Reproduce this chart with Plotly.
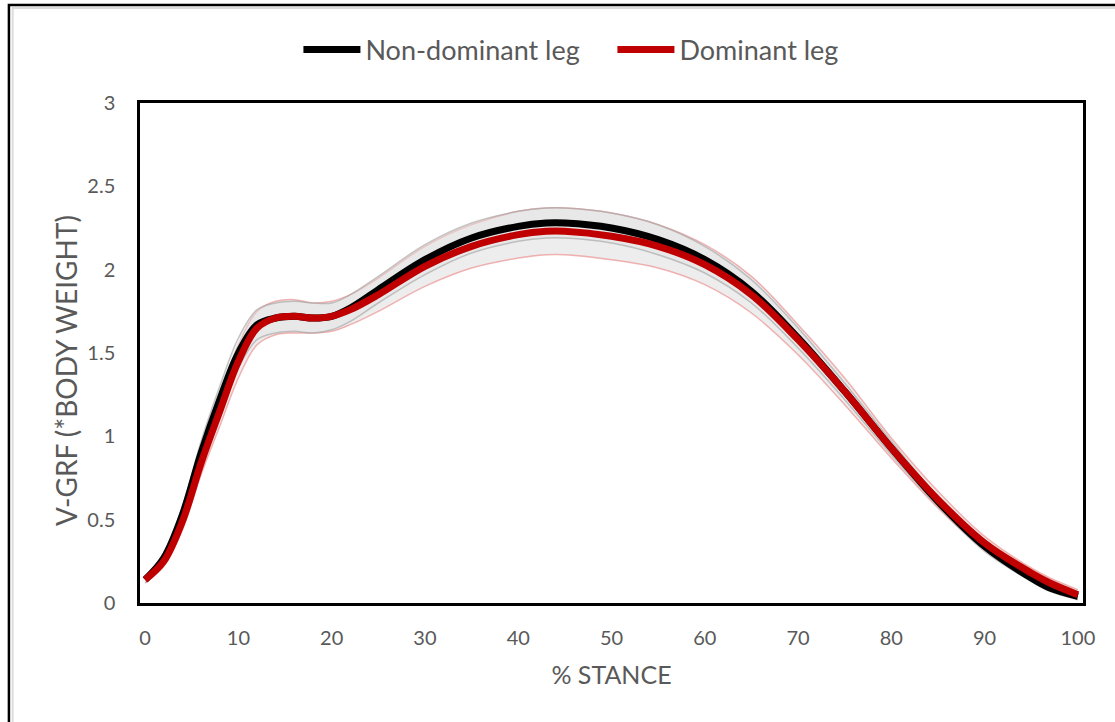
import plotly.graph_objects as go

# % stance sample points
stance = [0, 2, 4, 6, 8, 10, 12, 14, 16, 18, 20, 22, 25, 30, 35, 40, 43, 45, 50, 55, 60, 65, 70, 75, 80, 85, 90, 95, 97, 100]

# Non-dominant leg mean and SD (body weights)
nondom_mean = [0.14, 0.27, 0.53, 0.90, 1.22, 1.50, 1.67, 1.71, 1.72, 1.71, 1.72, 1.77, 1.88, 2.06, 2.19, 2.26, 2.28, 2.28, 2.25, 2.18, 2.06, 1.87, 1.59, 1.27, 0.93, 0.61, 0.34, 0.15, 0.09, 0.04]
nondom_sd = [0.02, 0.03, 0.05, 0.07, 0.08, 0.09, 0.09, 0.09, 0.09, 0.09, 0.08, 0.08, 0.08, 0.09, 0.09, 0.09, 0.09, 0.09, 0.09, 0.09, 0.08, 0.07, 0.06, 0.05, 0.04, 0.03, 0.03, 0.02, 0.02, 0.02]

# Dominant leg mean and SD (body weights)
dom_mean = [0.14, 0.25, 0.49, 0.84, 1.15, 1.45, 1.65, 1.71, 1.72, 1.71, 1.72, 1.76, 1.85, 2.02, 2.14, 2.21, 2.23, 2.23, 2.20, 2.14, 2.03, 1.85, 1.58, 1.27, 0.93, 0.62, 0.36, 0.18, 0.12, 0.05]
dom_sd = [0.02, 0.03, 0.05, 0.07, 0.09, 0.10, 0.10, 0.10, 0.10, 0.09, 0.09, 0.09, 0.10, 0.12, 0.13, 0.14, 0.14, 0.14, 0.14, 0.13, 0.12, 0.11, 0.09, 0.08, 0.06, 0.05, 0.04, 0.03, 0.03, 0.03]

x_ticks = [0, 10, 20, 30, 40, 50, 60, 70, 80, 90, 100]
y_ticks = [0, 0.5, 1, 1.5, 2, 2.5, 3]

legend_names = ["Non-dominant leg", "Dominant leg"]

FONT = "Lato"
GRAY = "#595959"

nd_up = [m + s for m, s in zip(nondom_mean, nondom_sd)]
nd_lo = [m - s for m, s in zip(nondom_mean, nondom_sd)]
d_up = [m + s for m, s in zip(dom_mean, dom_sd)]
d_lo = [m - s for m, s in zip(dom_mean, dom_sd)]

fig = go.Figure()

# dominant SD band (pink edges, light gray fill)
fig.add_trace(go.Scatter(x=stance, y=d_up, mode="lines", line=dict(color="rgba(235,130,130,0.6)", width=1.5, shape="spline"),
                         showlegend=False, hoverinfo="skip"))
fig.add_trace(go.Scatter(x=stance, y=d_lo, mode="lines", line=dict(color="rgba(235,130,130,0.6)", width=1.5, shape="spline"),
                         fill="tonexty", fillcolor="rgba(225,225,225,0.6)", showlegend=False, hoverinfo="skip"))
# non-dominant SD band (gray edges)
fig.add_trace(go.Scatter(x=stance, y=nd_up, mode="lines", line=dict(color="rgba(160,160,160,0.6)", width=1.5, shape="spline"),
                         showlegend=False, hoverinfo="skip"))
fig.add_trace(go.Scatter(x=stance, y=nd_lo, mode="lines", line=dict(color="rgba(160,160,160,0.6)", width=1.5, shape="spline"),
                         fill="tonexty", fillcolor="rgba(225,225,225,0.4)", showlegend=False, hoverinfo="skip"))

fig.add_trace(go.Scatter(x=stance, y=nondom_mean, mode="lines", name=legend_names[0] + "\u00a0" * 4,
                         line=dict(color="#000000", width=7, shape="spline")))
fig.add_trace(go.Scatter(x=stance, y=dom_mean, mode="lines", name=legend_names[1],
                         line=dict(color="#C00000", width=7, shape="spline")))

axis_common = dict(showgrid=False, zeroline=False, showline=True, linecolor="#000000", linewidth=2.5,
                   mirror=True, ticks="", tickfont=dict(family=FONT, size=20, color=GRAY))

fig.update_xaxes(range=[-0.55, 100.55], tickvals=x_ticks, ticktext=[str(v) for v in x_ticks],
                 ticklabelstandoff=15,
                 title=dict(text="% STANCE", font=dict(family=FONT, size=25, color=GRAY), standoff=19),
                 **axis_common)
fig.update_yaxes(range=[0, 3], tickvals=y_ticks, ticktext=["0", "0.5", "1", "1.5", "2", "2.5", "3"],
                 ticklabelstandoff=18,
                 **axis_common)

# y-axis title as annotation for exact placement
fig.add_annotation(text="V-GRF (*BODY WEIGHT)", xref="paper", yref="paper",
                   x=-0.0785, y=0.466, xanchor="center", yanchor="middle", textangle=-90,
                   showarrow=False, font=dict(family=FONT, size=28, color=GRAY))

# outer figure frame (partially cropped)
fig.add_shape(type="rect", xref="paper", yref="paper", x0=-0.139, x1=1.2, y0=-0.4, y1=1.196,
              line=dict(color="#000000", width=2.5), layer="below")
fig.add_shape(type="rect", xref="paper", yref="paper", x0=-0.135, x1=1.2, y0=-0.4, y1=1.19,
              line=dict(color="#dddddd", width=2), layer="below")

fig.update_layout(
    width=1115, height=722,
    margin=dict(l=140, r=32, t=103, b=119, autoexpand=False),
    paper_bgcolor="#ffffff", plot_bgcolor="#ffffff",
    font=dict(family=FONT, color=GRAY),
    legend=dict(orientation="h", x=0.168, xanchor="left", y=1.106, yanchor="middle",
                font=dict(family=FONT, size=27, color=GRAY), itemwidth=57,
                traceorder="normal", bgcolor="rgba(0,0,0,0)"),
    showlegend=True,
)

fig.write_html("out.html")
